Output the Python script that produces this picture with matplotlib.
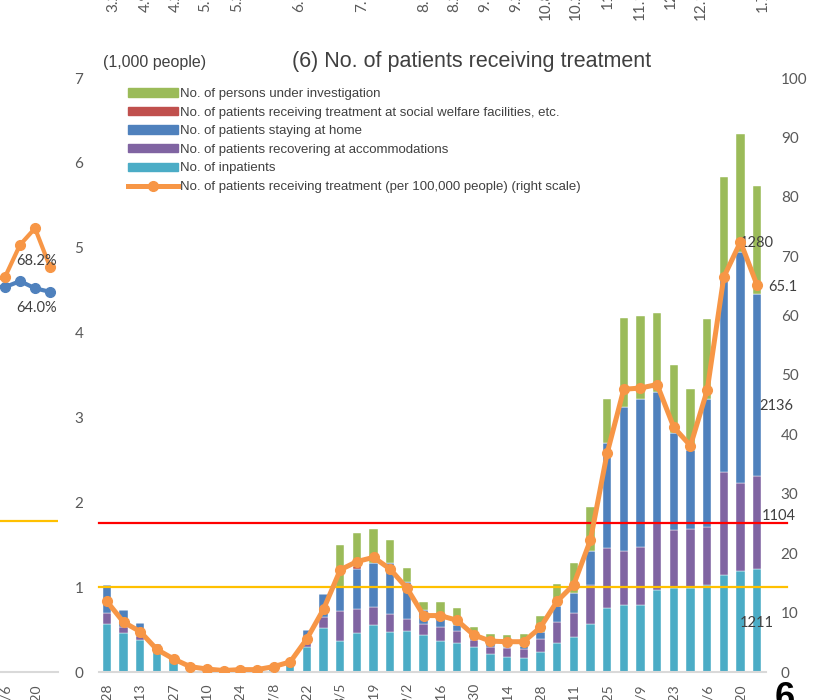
import numpy as np
import matplotlib
matplotlib.use("Agg")
import matplotlib.pyplot as plt
from matplotlib.patches import Patch
from matplotlib.lines import Line2D

# ---- data (thousand people, weekly) ----
dates = ["4/28", "5/6", "5/13", "5/20", "5/27", "6/3", "6/10", "6/17", "6/24", "7/1",
         "7/8", "7/15", "7/22", "7/29", "8/5", "8/12", "8/19", "8/26", "9/2", "9/9",
         "9/16", "9/23", "9/30", "10/7", "10/14", "10/21", "10/28", "11/4", "11/11", "11/18",
         "11/25", "12/2", "12/9", "12/16", "12/23", "12/30", "1/6", "1/13", "1/20", "1/27"]

inpatients = [0.57, 0.46, 0.38, 0.30, 0.15, 0.07, 0.03, 0.02, 0.02, 0.02,
              0.03, 0.11, 0.29, 0.52, 0.365, 0.463, 0.554, 0.475, 0.483, 0.436,
              0.365, 0.338, 0.29, 0.212, 0.18, 0.161, 0.239, 0.338, 0.416, 0.562,
              0.758, 0.79, 0.79, 0.966, 0.993, 0.993, 1.025, 1.143, 1.194, 1.211]
accommodations = [0.13, 0.07, 0.04, 0, 0, 0, 0, 0, 0, 0,
                  0, 0, 0.07, 0.13, 0.355, 0.276, 0.216, 0.205, 0.137, 0.126,
                  0.169, 0.145, 0.087, 0.086, 0.099, 0.106, 0.15, 0.246, 0.275, 0.463,
                  0.699, 0.636, 0.687, 0.786, 0.68, 0.692, 0.68, 1.217, 1.03, 1.104]
home = [0.33, 0.20, 0.16, 0.03, 0.03, 0.01, 0, 0, 0, 0,
        0, 0.02, 0.13, 0.265, 0.28, 0.475, 0.51, 0.608, 0.444, 0.168,
        0.118, 0.071, 0.039, 0.032, 0.019, 0.043, 0.079, 0.191, 0.236, 0.405,
        1.245, 1.701, 1.744, 1.551, 1.14, 0.931, 1.509, 2.27, 2.726, 2.136]
welfare = [0, 0, 0, 0, 0, 0, 0, 0, 0, 0,
           0, 0, 0, 0, 0, 0.03, 0, 0, 0, 0,
           0, 0, 0, 0, 0, 0, 0, 0, 0, 0,
           0, 0, 0, 0, 0, 0, 0, 0, 0, 0]
investigation = [0, 0, 0, 0, 0, 0, 0, 0, 0, 0,
                 0, 0, 0, 0, 0.50, 0.39, 0.405, 0.268, 0.156, 0.10,
                 0.178, 0.204, 0.118, 0.118, 0.138, 0.138, 0.192, 0.258, 0.361, 0.518,
                 0.512, 1.048, 0.974, 0.931, 0.805, 0.719, 0.942, 1.20, 1.386, 1.28]
per_100k = [11.9, 8.4, 6.8, 3.8, 2.2, 0.9, 0.5, 0.25, 0.4, 0.4,
            0.9, 1.7, 5.6, 10.6, 17.2, 18.6, 19.3, 17.3, 14.1, 9.5,
            9.5, 8.7, 6.25, 5.2, 5.1, 5.1, 7.5, 11.9, 14.7, 22.2,
            36.8, 47.6, 47.8, 48.4, 41.2, 38.1, 47.4, 66.5, 72.4, 65.1]

red_line = 1.755
yellow_line = 1.0

# neighbouring chart on the left (partly visible)
left_dates = ["12/30", "1/6", "1/13", "1/20", "1/27"]
left_orange = [66.0, 66.5, 71.9, 74.7, 68.2]
left_blue = [64.9, 64.8, 65.8, 64.6, 64.0]
left_yellow = 25.5

# neighbouring chart above (only label stubs visible)
top_labels = ["3.26", "4.9", "4.23", "5.14", "5.28", "6.18", "7.16", "8.13", "8.27",
              "9.10", "9.24", "10.8", "10.22", "11.5", "11.19", "12.3", "12.17", "1.7"]

names = ["No. of persons under investigation",
         "No. of patients receiving treatment at social welfare facilities, etc.",
         "No. of patients staying at home",
         "No. of patients recovering at accommodations",
         "No. of inpatients",
         "No. of patients receiving treatment (per 100,000 people) (right scale)"]

C_CYAN, C_PURPLE, C_BLUE, C_RED, C_GREEN = "#4BACC6", "#8064A2", "#4F81BD", "#C0504D", "#9BBB59"
C_ORANGE = "#F79646"
GREY = "#595959"
DARK = "#404040"
TICKFONT = ["Lato", "DejaVu Sans"]

plt.rcParams["font.family"] = ["Liberation Sans", "DejaVu Sans"]

W, H = 813, 700
fig = plt.figure(figsize=(W / 100, H / 100), dpi=100)


def fx(px):
    return px / W


def fy(py):
    return 1 - py / H


# ---- main chart ----
ax = fig.add_axes([fx(98.5), fy(672), (765.5 - 98.5) / W, (672 - 78) / H])
x = np.arange(len(dates))
stack = [(inpatients, C_CYAN), (accommodations, C_PURPLE), (home, C_BLUE),
         (welfare, C_RED), (investigation, C_GREEN)]
bottom = np.zeros(len(dates))
for vals, col in stack:
    vals = np.array(vals)
    ax.bar(x, vals, 0.5, bottom=bottom, color=col, edgecolor="white", linewidth=0.3, zorder=2)
    bottom += vals

ax.set_xlim(-0.5, len(dates) - 0.5)
ax.set_ylim(0, 7)
ax.set_yticks(range(8))
ax.set_xticks(x[::2])
ax.set_xticklabels(dates[::2], rotation=90)
ax.tick_params(axis="y", length=0, pad=11, labelsize=11, labelcolor=GREY)
ax.tick_params(axis="x", length=0, pad=8, labelsize=10, labelcolor=GREY)
for lbl in ax.get_xticklabels() + ax.get_yticklabels():
    lbl.set_family(TICKFONT)
for s in ["top", "left", "right"]:
    ax.spines[s].set_visible(False)
ax.spines["bottom"].set_color("#D9D9D9")
ax.spines["bottom"].set_linewidth(1.5)

ax.axhline(red_line, xmin=0, xmax=1.032, color="#FF0000", lw=1.6, clip_on=False, zorder=3)
ax.axhline(yellow_line, xmin=0, xmax=1.032, color="#FFC000", lw=1.6, clip_on=False, zorder=3)

ax2 = ax.twinx()
ax2.plot(x, per_100k, color=C_ORANGE, lw=3.6, marker="o", ms=7, zorder=5)
ax2.set_ylim(0, 100)
ax2.set_yticks(range(0, 101, 10))
ax2.tick_params(axis="y", length=0, pad=11, labelsize=11, labelcolor=GREY)
for lbl in ax2.get_yticklabels():
    lbl.set_family(TICKFONT)
for s in ax2.spines.values():
    s.set_visible(False)

# data labels on the last bar
last = len(dates) - 1
cum = 0.0
label_offsets = [(inpatients, (0, -2)), (accommodations, (15.5, 4.5)), (home, (13.5, -15)),
                 (welfare, None), (investigation, (0, -2))]
for vals, off in label_offsets:
    v = vals[last]
    if off is not None and v > 0:
        ax.annotate(f"{round(v * 1000)}", (last, cum + v / 2), xytext=off,
                    textcoords="offset points", ha="center", va="center",
                    fontsize=10.5, color=DARK, family=TICKFONT, zorder=6)
    cum += v
ax2.annotate(f"{per_100k[last]:.1f}", (last, per_100k[last]), xytext=(8, -1),
             textcoords="offset points", ha="left", va="center",
             fontsize=10.5, color=DARK, family=TICKFONT)

# legend
handles = [Patch(color=C_GREEN), Patch(color=C_RED), Patch(color=C_BLUE),
           Patch(color=C_PURPLE), Patch(color=C_CYAN),
           Line2D([], [], color=C_ORANGE, lw=3.6, marker="o", ms=7)]
fig.legend(handles, names, loc="upper left", bbox_to_anchor=(fx(128), fy(88)),
           frameon=False, fontsize=9.5, handlelength=3.8, handleheight=0.6,
           handletextpad=0.15, labelspacing=0.5, borderpad=0, borderaxespad=0,
           labelcolor=DARK)

fig.text(fx(472), fy(62), "(6) No. of patients receiving treatment", ha="center",
         va="center", fontsize=15.5, color=DARK)
fig.text(fx(103), fy(62), "(1,000 people)", ha="left", va="center", fontsize=11.5, color=DARK)

# ---- left neighbouring chart ----
n_left = len(left_dates)
axL = fig.add_axes([fx(57.5 - 15 * n_left), fy(672), 15 * n_left / W, (672 - 78) / H])
lx = np.arange(n_left)
axL.axhline(left_yellow, color="#FFC000", lw=1.6)
axL.plot(lx, left_blue, color=C_BLUE, lw=3, marker="o", ms=7)
axL.plot(lx, left_orange, color=C_ORANGE, lw=3, marker="o", ms=7)
axL.set_xlim(-0.5, n_left - 0.5)
axL.set_ylim(0, 100)
axL.set_yticks([])
axL.set_xticks(lx[1::2])
axL.set_xticklabels(left_dates[1::2], rotation=90)
axL.tick_params(axis="x", length=0, pad=8, labelsize=10, labelcolor=GREY)
for lbl in axL.get_xticklabels():
    lbl.set_family(TICKFONT)
for s in ["top", "left", "right"]:
    axL.spines[s].set_visible(False)
axL.spines["bottom"].set_color("#D9D9D9")
axL.spines["bottom"].set_linewidth(1.5)
axL.patch.set_alpha(0)
axL.annotate(f"{left_orange[-1]:.1f}%", (n_left - 1, left_orange[-1]), xytext=(-10, 4),
             textcoords="offset points", ha="center", va="center", fontsize=10.5,
             color=DARK, family=TICKFONT)
axL.annotate(f"{left_blue[-1]:.1f}%", (n_left - 1, left_blue[-1]), xytext=(-10, -11.5),
             textcoords="offset points", ha="center", va="center", fontsize=10.5,
             color=DARK, family=TICKFONT)

# ---- stubs of the chart above ----
top_x = [113, 146, 176, 205, 237, 299, 362, 424, 454, 485, 516, 546, 576, 608, 640, 671, 701, 763]
top_bottom = [12, 12, 12, 12, 12, 12, 12, 12, 12, 12, 12, 20, 20, 9, 20, 9, 20, 12]
for lab, px, pb in zip(top_labels, top_x, top_bottom):
    fig.text(fx(px), fy(pb), lab, rotation=90, ha="center", va="bottom",
             fontsize=11, color=GREY, family=TICKFONT)

# page marker at the bottom right
fig.text(fx(785), fy(681), "6", ha="center", va="top", fontsize=26,
         fontweight="bold", color="black")

fig.savefig("out.png", dpi=100)
